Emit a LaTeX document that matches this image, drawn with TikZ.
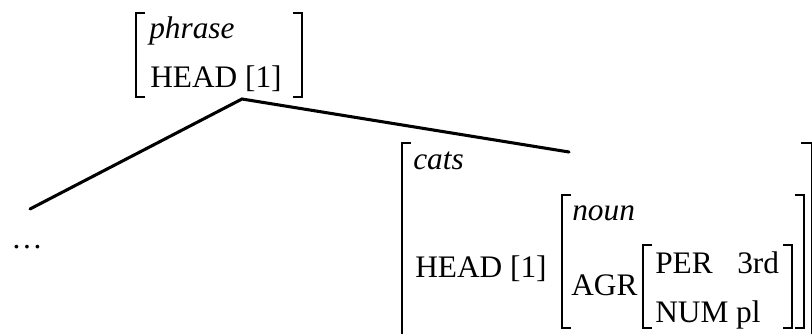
\documentclass[tikz,border=0pt]{standalone}
\usepackage{fontspec}
\setmainfont{Liberation Serif}
\begin{document}
\begin{tikzpicture}[x=0.75pt,y=-0.75pt,
  txt/.style={inner sep=0pt,anchor=base west,font=\fontsize{23.5pt}{28pt}\selectfont},
  brk/.style={line width=1.1pt},
  branch/.style={line width=2.3pt,line cap=round}]
\useasboundingbox (0,0) rectangle (812,333);
\begin{scope}
\clip (0,0) rectangle (812,333);
% top AVM
\node[txt] (phr) at (149,38) {\itshape phrase};
\node[txt] (hd1) at (150,87) {HEAD [1]};
\draw[brk] (145,13) -- (136,13) -- (136,97) -- (145,97);
\draw[brk] (293,13) -- (302,13) -- (302,97) -- (293,97);
% tree
\coordinate (apex) at (242,99);
\coordinate (lend) at (30,209);
\coordinate (rend) at (569,152);
\draw[branch] (lend) -- (apex) -- (rend);
\node[txt] (dots) at (11,248) {…};
% big AVM
\draw[brk] (411,143) -- (402,143) -- (402,340);
\draw[brk] (801,143) -- (811.5,143) -- (811.5,340);
\node[txt] (cats) at (413,169) {\itshape cats};
\node[txt] (hd2) at (415,277) {HEAD [1]};
\draw[brk] (571,195) -- (562,195) -- (562,328) -- (571,328);
\draw[brk] (795,195) -- (804,195) -- (804,328) -- (795,328);
\node[txt] (noun) at (572,220) {\itshape noun};
\node[txt] (agr) at (571,295) {AGR};
\draw[brk] (652,245) -- (643,245) -- (643,328) -- (652,328);
\draw[brk] (783,245) -- (792,245) -- (792,328) -- (783,328);
\node[txt] (per) at (655,273) {PER};
\node[txt] (third) at (737,273) {3rd};
\node[txt] (num) at (655,322) {NUM pl};
\end{scope}
\end{tikzpicture}
\end{document}
